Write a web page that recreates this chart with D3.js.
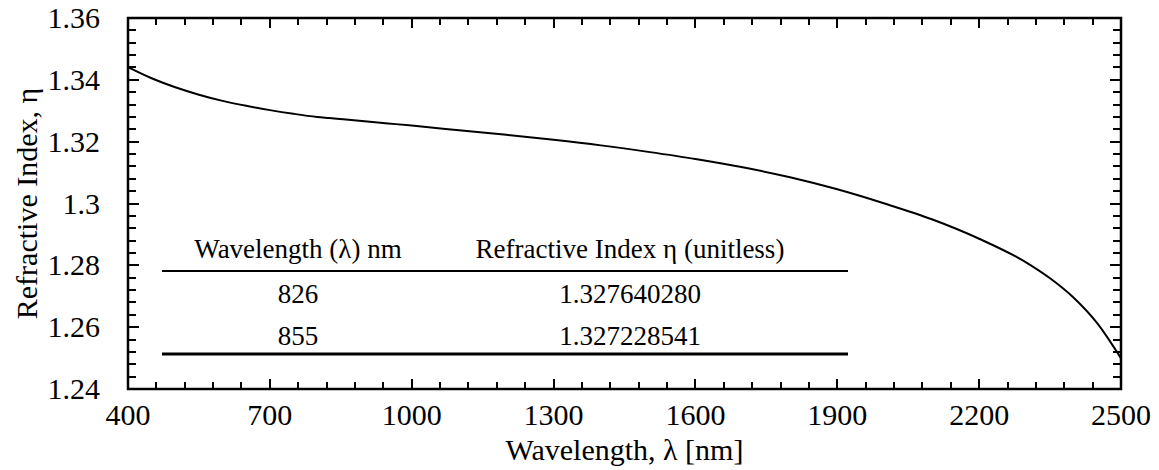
<!DOCTYPE html>
<html>
<head>
<meta charset="utf-8">
<script src="https://cdn.jsdelivr.net/npm/d3@7"></script>
</head>
<body style="margin:0">
<svg id="fig" width="1159" height="470"></svg>
<script>
// Wavelength (nm) and refractive index of the dispersion curve
const wavelengths = [400, 450, 500, 550, 600, 650, 700, 750, 800, 826, 855, 900, 950, 1000,
  1100, 1200, 1300, 1400, 1500, 1600, 1700, 1800, 1900, 2000, 2100, 2200, 2300, 2350, 2400, 2450, 2500];
const refractiveIndex = [1.3441, 1.3405, 1.3376, 1.3352, 1.3332, 1.3316, 1.3302, 1.3290, 1.3280,
  1.327640280, 1.327228541, 1.3266, 1.3259, 1.3252, 1.3237, 1.3222, 1.3206, 1.3188, 1.3167,
  1.3144, 1.3117, 1.3085, 1.3046, 1.3000, 1.2949, 1.2886, 1.2809, 1.2758, 1.2695, 1.2612, 1.2499];

// Axis ticks
const xTicks = [400, 700, 1000, 1300, 1600, 1900, 2200, 2500];
const xTickLabels = ["400", "700", "1000", "1300", "1600", "1900", "2200", "2500"];
const yTicks = [1.24, 1.26, 1.28, 1.30, 1.32, 1.34, 1.36];
const yTickLabels = ["1.24", "1.26", "1.28", "1.3", "1.32", "1.34", "1.36"];

// Inset table
const tableHeader = ["Wavelength (\u03bb) nm", "Refractive Index \u03b7 (unitless)"];
const tableWavelengths = ["826", "855"];
const tableIndices = ["1.327640280", "1.327228541"];

const xTitle = "Wavelength, \u03bb [nm]";
const yTitle = "Refractive Index, \u03b7";

const svg = d3.select("#fig");
const plotL = 128, plotR = 1121, plotT = 18, plotB = 389;
const FS = 30;
const TFS = 27;

const x = d3.scaleLinear().domain([400, 2500]).range([plotL, plotR]);
const y = d3.scaleLinear().domain([1.24, 1.36]).range([plotB, plotT]);

const xMinor = d3.range(400, 2500 + 1, 60).filter(v => !xTicks.includes(v));
const yMinor = d3.range(0, 31).map(i => +(1.24 + i * 0.004).toFixed(3))
  .filter(v => !yTicks.some(t => Math.abs(t - v) < 1e-9));

function addText(str, size, px, py, anchor) {
  return svg.append("text")
    .attr("font-family", "Times New Roman")
    .attr("font-size", size)
    .attr("fill", "#000")
    .attr("x", px).attr("y", py)
    .attr("text-anchor", anchor)
    .text(str);
}

// frame
svg.append("rect")
  .attr("x", plotL).attr("y", plotT)
  .attr("width", plotR - plotL).attr("height", plotB - plotT)
  .attr("fill", "none").attr("stroke", "#000").attr("stroke-width", 2.5);

// inward ticks on all four sides
function xTickMarks(vals, len, w) {
  vals.forEach(d => {
    const px = Math.round(x(d));
    svg.append("line").attr("x1", px).attr("x2", px).attr("y1", plotB).attr("y2", plotB - len)
      .attr("stroke", "#000").attr("stroke-width", w);
    svg.append("line").attr("x1", px).attr("x2", px).attr("y1", plotT).attr("y2", plotT + len)
      .attr("stroke", "#000").attr("stroke-width", w);
  });
}
function yTickMarks(vals, len, w) {
  vals.forEach(d => {
    const py = Math.round(y(d));
    svg.append("line").attr("x1", plotL).attr("x2", plotL + len).attr("y1", py).attr("y2", py)
      .attr("stroke", "#000").attr("stroke-width", w);
    svg.append("line").attr("x1", plotR).attr("x2", plotR - len).attr("y1", py).attr("y2", py)
      .attr("stroke", "#000").attr("stroke-width", w);
  });
}
xTickMarks(xMinor, 7, 2);
xTickMarks(xTicks, 10, 2);
yTickMarks(yMinor, 8, 2);
yTickMarks(yTicks, 11, 2);

// tick labels
xTicks.forEach((d, i) => addText(xTickLabels[i], FS, x(d), plotB + 36, "middle"));
yTicks.forEach((d, i) => addText(yTickLabels[i], FS, plotL - 28, y(d) + 10, "end"));

// curve
const line = d3.line()
  .x((d, i) => x(wavelengths[i]))
  .y(d => y(d))
  .curve(d3.curveMonotoneX);
svg.append("path")
  .attr("d", line(refractiveIndex))
  .attr("fill", "none")
  .attr("stroke", "#000")
  .attr("stroke-width", 2);

// axis titles
addText(xTitle, FS, (plotL + plotR) / 2, 460, "middle");
addText(yTitle, FS, 0, 0, "middle")
  .attr("transform", `translate(37,${(plotT + plotB) / 2}) rotate(-90)`);

// inset table
const colX = [298, 630];
tableHeader.forEach((t, i) => addText(t, TFS, colX[i], 258, "middle"));
const rowY = [303, 345];
tableWavelengths.forEach((w, r) => {
  addText(w, TFS, colX[0], rowY[r], "middle");
  addText(tableIndices[r], TFS, colX[1], rowY[r], "middle");
});
svg.append("line").attr("x1", 162).attr("x2", 848).attr("y1", 271).attr("y2", 271)
  .attr("stroke", "#000").attr("stroke-width", 2.2);
svg.append("line").attr("x1", 162).attr("x2", 848).attr("y1", 354).attr("y2", 354)
  .attr("stroke", "#000").attr("stroke-width", 3);
</script>
</body>
</html>
